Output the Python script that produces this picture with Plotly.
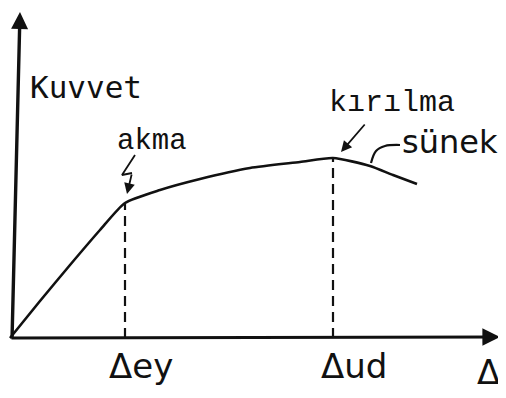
import plotly.graph_objects as go

# Data (displacement vs force, arbitrary units)
displacement = [0, 30, 60, 90, 115, 150, 190, 240, 290, 323, 360, 383, 407]
force = [0, 37, 73, 108, 135, 148, 159, 170, 176, 180, 172, 163, 154]
yield_idx = 4      # akma
ultimate_idx = 9   # kırılma
x_labels = ["\u0394ey", "\u0394ud"]

ink = "#111111"
fig = go.Figure()

# main curve
fig.add_trace(go.Scatter(x=displacement, y=force, mode="lines",
                         line=dict(color=ink, width=2.6, shape="spline", smoothing=0.6),
                         hoverinfo="skip"))

# dashed drop lines
for idx in (yield_idx, ultimate_idx):
    fig.add_trace(go.Scatter(x=[displacement[idx], displacement[idx]], y=[0, force[idx]],
                             mode="lines", line=dict(color=ink, width=2.2, dash="10px,6px"),
                             hoverinfo="skip"))

# lightning arrow for akma
xy = displacement[yield_idx]; fy = force[yield_idx]
fig.add_trace(go.Scatter(x=[xy + 10, xy - 3, xy + 7], y=[fy + 48, fy + 28, fy + 30],
                         mode="lines", line=dict(color=ink, width=1.8), hoverinfo="skip"))
# hook for sünek
fig.add_trace(go.Scatter(x=[361, 366, 375, 390], y=[175, 187, 192, 193], mode="lines",
                         line=dict(color=ink, width=2.2, shape="spline"), hoverinfo="skip"))

ann = []
# axes arrows
ann.append(dict(x=490, y=1, ax=0, ay=0, xref="x", yref="y", axref="x", ayref="y",
                showarrow=True, arrowhead=2, arrowsize=1.1, arrowwidth=3.2, arrowcolor=ink, text=""))
ann.append(dict(x=10, y=326, ax=2, ay=-2, xref="x", yref="y", axref="x", ayref="y",
                showarrow=True, arrowhead=2, arrowsize=1.0, arrowwidth=3.4, arrowcolor=ink, text=""))
# lightning tip
ann.append(dict(x=xy + 2, y=fy + 9, ax=xy + 7, ay=fy + 30, xref="x", yref="y", axref="x", ayref="y",
                showarrow=True, arrowhead=2, arrowsize=1.2, arrowwidth=1.8, arrowcolor=ink, text=""))
# kırılma arrow
ann.append(dict(x=displacement[ultimate_idx] + 8, y=force[ultimate_idx] + 6,
                ax=displacement[ultimate_idx] + 33, ay=force[ultimate_idx] + 35,
                xref="x", yref="y", axref="x", ayref="y",
                showarrow=True, arrowhead=2, arrowsize=1.2, arrowwidth=1.8, arrowcolor=ink, text=""))

mono = "Liberation Mono"
sans = "DejaVu Sans"
ann.append(dict(x=18, y=251, text="Kuvvet", showarrow=False, xanchor="left",
                font=dict(family="DejaVu Sans Mono", size=31, color=ink)))
ann.append(dict(x=xy + 27, y=197, text="akma", showarrow=False,
                font=dict(family=mono, size=29, color=ink)))
ann.append(dict(x=382, y=235, text="k\u0131r\u0131lma", showarrow=False,
                font=dict(family=mono, size=30, color=ink)))
ann.append(dict(x=440, y=196, text="s\u00fcnek", showarrow=False,
                font=dict(family=sans, size=32, color=ink)))
ann.append(dict(x=displacement[yield_idx] + 16, y=-28, text=x_labels[0], showarrow=False,
                font=dict(family=sans, size=34, color=ink)))
ann.append(dict(x=displacement[ultimate_idx] + 21, y=-28, text=x_labels[1], showarrow=False,
                font=dict(family=sans, size=34, color=ink)))
ann.append(dict(x=478, y=-34, text="\u0394", showarrow=False,
                font=dict(family=sans, size=34, color=ink)))

fig.update_layout(
    width=506, height=398, margin=dict(l=0, r=0, t=0, b=0),
    paper_bgcolor="white", plot_bgcolor="white", showlegend=False,
    xaxis=dict(range=[-2, 504], visible=False, fixedrange=True),
    yaxis=dict(range=[-68, 330], visible=False, fixedrange=True),
    annotations=ann,
)

fig.write_html("out.html")
